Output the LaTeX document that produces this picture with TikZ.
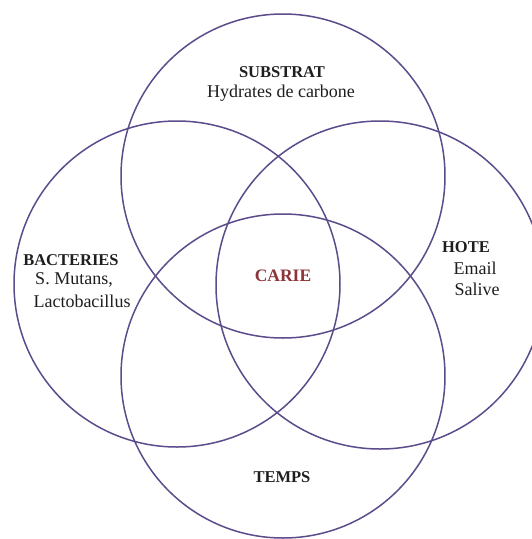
\documentclass[tikz,border=0pt]{standalone}
\usepackage{fontspec}
\setmainfont{Liberation Serif}
\definecolor{ring}{RGB}{92,76,140}
\definecolor{txt}{RGB}{30,30,30}
\definecolor{carie}{RGB}{140,52,58}
\begin{document}
\begin{tikzpicture}[x=1pt,y=-1pt,
  ring/.style={circle,draw=ring,line width=1.5pt,minimum size=#1,inner sep=0pt,outer sep=0pt},
  ttl/.style={font=\fontsize{16.5}{18}\selectfont\bfseries,text=txt,inner sep=0pt},
  sub/.style={font=\fontsize{18}{20}\selectfont,text=txt,inner sep=0pt}]
\useasboundingbox (0,0) rectangle (531,539);
\fill[white] (0,0) rectangle (531,539);
\node[ring=324pt] (csub) at (283,176) {};
\node[ring=326pt] (cbac) at (177,284) {};
\node[ring=328pt] (chote) at (380,285) {};
\node[ring=324pt] (ctemps) at (283,376) {};
\node[ttl] (substrat) at (282,72) {SUBSTRAT};
\node[sub] (hydr) at (281,93) {Hydrates de carbone};
\node[ttl] (bact) at (71,260) {BACTERIES};
\node[sub] (smut) at (74,280) {S. Mutans,};
\node[sub] (lacto) at (82,301) {Lactobacillus};
\node[ttl] (hote) at (466,247) {HOTE};
\node[sub] (email) at (475,268) {Email};
\node[sub] (salive) at (477,289) {Salive};
\node[ttl,text=carie,font=\fontsize{17.5}{20}\selectfont\bfseries] (carie) at (283,276) {CARIE};
\node[ttl] (temps) at (282,477) {TEMPS};
\end{tikzpicture}
\end{document}
